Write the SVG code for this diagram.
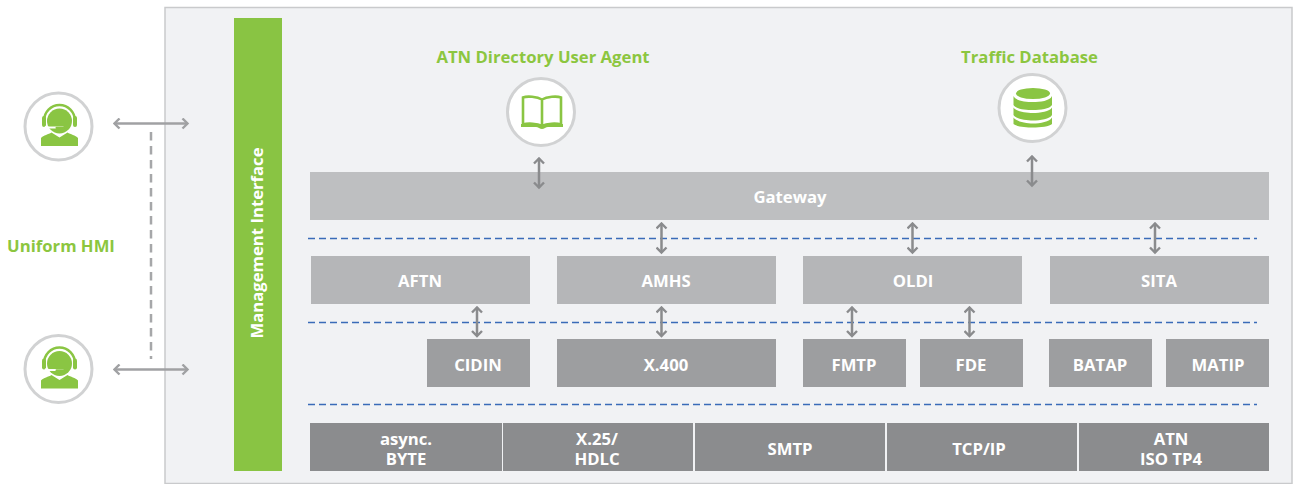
<svg xmlns="http://www.w3.org/2000/svg" width="1293" height="484" viewBox="0 0 1293 484">
<style>
text{font-family:"Open Sans","Liberation Sans",sans-serif;font-weight:700;text-anchor:middle}
.w{fill:#fff;font-size:16.7px}
.g{fill:#8cc63f;font-size:16.7px}
.ring{fill:#fff;stroke:#d1d2d3;stroke-width:3}
.ico{fill:#8ac543}
.lt{fill:#b5b6b8}
.md{fill:#9d9ea0}
.dk{fill:#8b8c8e}
.blue{stroke:#3a6bb8;stroke-width:1.5;stroke-dasharray:7 4;fill:none}
.v{stroke:#8a8b8d;stroke-width:2.5;fill:none;marker-start:url(#a);marker-end:url(#a)}
.h{stroke:#a0a1a3;stroke-width:2.5;fill:none;marker-start:url(#b);marker-end:url(#b)}
</style>
<defs>
<marker id="a" viewBox="0 0 12 12" refX="10" refY="6" markerWidth="12" markerHeight="12" markerUnits="userSpaceOnUse" orient="auto-start-reverse"><path d="M5 1L10 6L5 11" fill="none" stroke="#8a8b8d" stroke-width="2.4"/></marker>
<marker id="b" viewBox="0 0 12 12" refX="10" refY="6" markerWidth="12" markerHeight="12" markerUnits="userSpaceOnUse" orient="auto-start-reverse"><path d="M5 1L10 6L5 11" fill="none" stroke="#a0a1a3" stroke-width="2.4"/></marker>
<g id="agent">
<path d="M-15.500 -3A15.500 16 0 0 1 15.500 -3" fill="none" stroke="#8ac543" stroke-width="2.500"/>
<rect class="ico" x="-17.500" y="-8" width="4" height="11" rx="2"/>
<rect class="ico" x="13.500" y="-8" width="4" height="11" rx="2"/>
<circle class="ico" cx="0" cy="-3" r="12.500"/>
<path d="M-14 2C-13 4 -11 3.500 -8 3.500H4" fill="none" stroke="#fff" stroke-width="2"/>
<rect class="ico" x="-4" y="2.700" width="9" height="2.400" rx="1"/>
<path class="ico" d="M-18.500 22L-18.500 14C-16 11 -11 10.500 -8 8.500L0 13.500L8 8.500C11 10.500 16 11 18.500 14L18.500 22Z"/>
</g>
</defs>
<rect id="frame" x="165" y="7.500" width="1127" height="476" fill="#f1f2f4" stroke="#c9cacc" stroke-width="1.500"/>
<g id="connectors">
<path d="M151 132V359" fill="none" stroke="#a6a7a9" stroke-width="2.500" stroke-dasharray="8.500 5.500"/>
<path class="h" d="M114.500 123.500H187.500"/>
<path class="h" d="M114.500 369.500H187.500"/>
<path class="blue" d="M308 238.500H1257"/>
<path class="blue" d="M308 322.500H1257"/>
<path class="blue" d="M308 404.500H1257"/>
</g>
<g id="user1"><circle class="ring" cx="58.500" cy="126.500" r="33.500"/><use href="#agent" x="59.500" y="124"/></g>
<g id="user2"><circle class="ring" cx="58.500" cy="369" r="33.500"/><use href="#agent" x="59.500" y="366.500"/></g>
<g id="hmi-label"><text x="61" y="252" class="g">Uniform HMI</text></g>
<g id="management"><rect x="234" y="18" width="48" height="453" fill="#89c443"/><text class="w" transform="translate(263 243) rotate(-90)">Management Interface</text></g>
<g id="directory"><text x="543" y="63" class="g">ATN Directory User Agent</text>
<circle class="ring" cx="541" cy="112" r="33.500"/>
<path d="M542 99.500C537 96.500 527 96 523 97.500V124.500C528 123 537 123.500 542 126C547 123.500 556 123 561 124.500V97.500C557 96 547 96.500 542 99.500ZM542 99.500V126" fill="none" stroke="#8ac543" stroke-width="2.600"/>
<path class="ico" d="M521 124V127H536C538 127 540 129 542 129C544 129 546 127 548 127H563V124H550C547 124 544 125 542 126C540 125 537 124 534 124Z"/></g>
<g id="traffic"><text x="1029.500" y="63" class="g">Traffic Database</text>
<circle class="ring" cx="1032.500" cy="108" r="33.500"/>
<ellipse class="ico" cx="1033" cy="93.500" rx="17" ry="5.500"/>
<path class="ico" d="M1013.500 96C1016 101 1026 102 1033 102C1040 102 1050 101 1052 96V105C1050 109 1040 110 1033 110C1026 110 1016 109 1013.500 105Z"/>
<path class="ico" d="M1013.500 107.500C1016 111.500 1026 113 1033 113C1040 113 1050 111.500 1052 107.500V115C1050 119 1040 120.500 1033 120.500C1026 120.500 1016 119 1013.500 115Z"/>
<path class="ico" d="M1013.500 117.500C1016 121.500 1026 123.500 1033 123.500C1040 123.500 1050 121.500 1052 117.500V124C1050 126.500 1040 127.500 1033 127.500C1026 127.500 1016 126.500 1013.500 124Z"/></g>
<g id="gateway"><rect x="310" y="172" width="959" height="48" fill="#bebfc1"/><text x="790" y="203" class="w">Gateway</text></g>
<g id="aftn"><rect class="lt" x="311" y="256" width="219" height="48"/><text x="420" y="287" class="w">AFTN</text></g>
<g id="amhs"><rect class="lt" x="557" y="256" width="219" height="48"/><text x="666" y="287" class="w">AMHS</text></g>
<g id="oldi"><rect class="lt" x="803" y="256" width="219" height="48"/><text x="913" y="287" class="w">OLDI</text></g>
<g id="sita"><rect class="lt" x="1050" y="256" width="219" height="48"/><text x="1159" y="287" class="w">SITA</text></g>
<g id="cidin"><rect class="md" x="427" y="339" width="103" height="48"/><text x="478" y="371" class="w">CIDIN</text></g>
<g id="x400"><rect class="md" x="557" y="339" width="219" height="48"/><text x="666" y="371" class="w">X.400</text></g>
<g id="fmtp"><rect class="md" x="803" y="339" width="103" height="48"/><text x="854" y="371" class="w">FMTP</text></g>
<g id="fde"><rect class="md" x="920" y="339" width="103" height="48"/><text x="971" y="371" class="w">FDE</text></g>
<g id="batap"><rect class="md" x="1049" y="339" width="103" height="48"/><text x="1100" y="371" class="w">BATAP</text></g>
<g id="matip"><rect class="md" x="1166" y="339" width="103" height="48"/><text x="1218" y="371" class="w">MATIP</text></g>
<g id="async"><rect class="dk" x="310" y="423" width="192" height="48"/><text class="w"><tspan x="406" y="445">async.</tspan><tspan x="406" y="465">BYTE</tspan></text></g>
<g id="x25"><rect class="dk" x="503" y="423" width="190" height="48"/><text class="w"><tspan x="597" y="445">X.25/</tspan><tspan x="597" y="465">HDLC</tspan></text></g>
<g id="smtp"><rect class="dk" x="695" y="423" width="190" height="48"/><text x="790" y="455" class="w">SMTP</text></g>
<g id="tcpip"><rect class="dk" x="887" y="423" width="190" height="48"/><text x="979" y="455" class="w">TCP/IP</text></g>
<g id="atn"><rect class="dk" x="1079" y="423" width="190" height="48"/><text class="w"><tspan x="1171" y="445">ATN</tspan><tspan x="1171" y="465">ISO TP4</tspan></text></g>
<g id="v-connectors">
<path class="v" d="M539 158.500V187.500"/>
<path class="v" d="M1032 156.500V185.500"/>
<path class="v" d="M661.500 223.500V252.500"/>
<path class="v" d="M912.500 223.500V252.500"/>
<path class="v" d="M1155 223.500V252.500"/>
<path class="v" d="M477 307.500V336"/>
<path class="v" d="M661.500 307.500V336"/>
<path class="v" d="M852 307.500V336"/>
<path class="v" d="M969.500 307.500V336"/>
</g>
</svg>
